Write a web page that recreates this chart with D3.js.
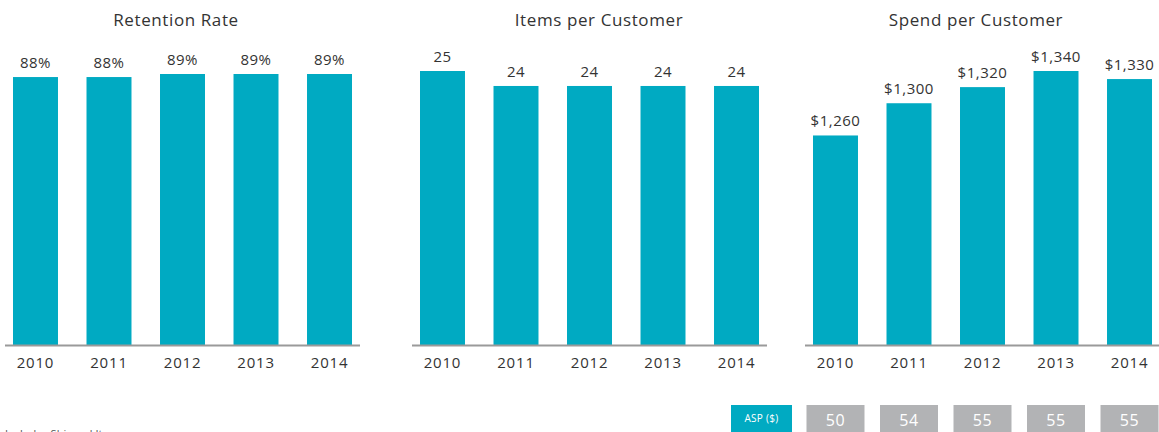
<!DOCTYPE html>
<html>
<head>
<meta charset="utf-8">
<script src="https://cdn.jsdelivr.net/npm/d3@7"></script>
<style>
  html, body { margin: 0; padding: 0; background: #fff; }
  svg { display: block; font-family: "Open Sans", "Noto Sans", sans-serif; }
</style>
</head>
<body>
<svg id="chart" width="1159" height="432"></svg>
<script>
// Customer metrics by year
const years = ["2010", "2011", "2012", "2013", "2014"];
const retentionRate = [88, 88, 89, 89, 89];            // %
const itemsPerCustomer = [25, 24, 24, 24, 24];
const spendPerCustomer = [1260, 1300, 1320, 1340, 1330]; // $
const aspValues = [50, 54, 55, 55, 55];                 // average selling price, $
const panelTitles = ["Retention Rate", "Items per Customer", "Spend per Customer"];
const footnote = "Includes Shipped Items";

const TEAL = "#00aac2";
const GREY_BOX = "#b2b3b5";
const TEXT = "#333333";
const AXIS = "#9a9a9a";
const FONT = "'Open Sans', 'Noto Sans', sans-serif";

const svg = d3.select("#chart");
const baseline = 345;

const panels = [
  { title: panelTitles[0], values: retentionRate, x0: 5, titleX: 176,
    domain: [0, 89], top: 74, fmt: v => v + "%" },
  { title: panelTitles[1], values: itemsPerCustomer, x0: 412, titleX: 599,
    domain: [6.7, 25], top: 71, fmt: v => String(v) },
  { title: panelTitles[2], values: spendPerCustomer, x0: 805, titleX: 976,
    domain: [1000, 1340], top: 71, fmt: v => "$" + d3.format(",")(v) }
];

let lastX = null;

panels.forEach(p => {
  const g = svg.append("g");
  const x = d3.scaleBand()
    .domain(years)
    .range([p.x0 + 8, p.x0 + 347])
    .paddingInner(0.388);
  const y = d3.scaleLinear().domain(p.domain).range([baseline, p.top]);
  lastX = x;

  // title
  g.append("text")
    .attr("x", p.titleX)
    .attr("y", 26)
    .attr("text-anchor", "middle")
    .attr("fill", TEXT)
    .style("font-size", "17px")
    .style("letter-spacing", "0.6px")
    .text(p.title);

  // bars
  g.selectAll("rect.bar")
    .data(p.values)
    .join("rect")
    .attr("class", "bar")
    .attr("x", (d, i) => x(years[i]))
    .attr("width", x.bandwidth())
    .attr("y", d => y(d))
    .attr("height", d => baseline - y(d))
    .attr("fill", TEAL);

  // value labels
  g.selectAll("text.val")
    .data(p.values)
    .join("text")
    .attr("class", "val")
    .attr("x", (d, i) => x(years[i]) + x.bandwidth() / 2)
    .attr("y", d => y(d) - 9)
    .attr("text-anchor", "middle")
    .attr("fill", TEXT)
    .style("font-size", "15px")
    .style("letter-spacing", "0.5px")
    .text(d => p.fmt(d));

  // baseline axis with year labels
  const axis = d3.axisBottom(x).tickSize(0).tickPadding(12);
  const ax = g.append("g")
    .attr("transform", `translate(0,${baseline})`)
    .call(axis);
  ax.select(".domain")
    .attr("d", `M${p.x0},0.5H${p.x0 + 355}`)
    .attr("stroke", AXIS)
    .attr("stroke-width", 2);
  ax.selectAll(".tick text")
    .attr("fill", TEXT)
    .style("font-family", FONT)
    .style("font-size", "15px")
    .style("letter-spacing", "0.8px");
});

// ASP row under the spend panel
const boxTop = 405, boxH = 30, boxW = 58;
const asp = svg.append("g");
asp.append("rect")
  .attr("x", 731).attr("y", boxTop)
  .attr("width", 61).attr("height", boxH)
  .attr("fill", TEAL);
asp.append("text")
  .attr("x", 761.5).attr("y", boxTop + 17)
  .attr("text-anchor", "middle")
  .attr("fill", "#fff")
  .style("font-size", "10px")
  .style("letter-spacing", "0.3px")
  .text("ASP ($)");

asp.selectAll("rect.asp")
  .data(aspValues)
  .join("rect")
  .attr("class", "asp")
  .attr("x", (d, i) => lastX(years[i]) + lastX.bandwidth() / 2 - boxW / 2)
  .attr("y", boxTop)
  .attr("width", boxW)
  .attr("height", boxH)
  .attr("fill", GREY_BOX);
asp.selectAll("text.asp")
  .data(aspValues)
  .join("text")
  .attr("class", "asp")
  .attr("x", (d, i) => lastX(years[i]) + lastX.bandwidth() / 2)
  .attr("y", boxTop + 21)
  .attr("text-anchor", "middle")
  .attr("fill", "#fff")
  .style("font-size", "16px")
  .style("letter-spacing", "0.6px")
  .text(d => d);

// footnote along the bottom edge
svg.append("text")
  .attr("x", 5)
  .attr("y", 438)
  .attr("fill", "#555")
  .style("font-size", "11px")
  .text(footnote);
</script>
</body>
</html>
